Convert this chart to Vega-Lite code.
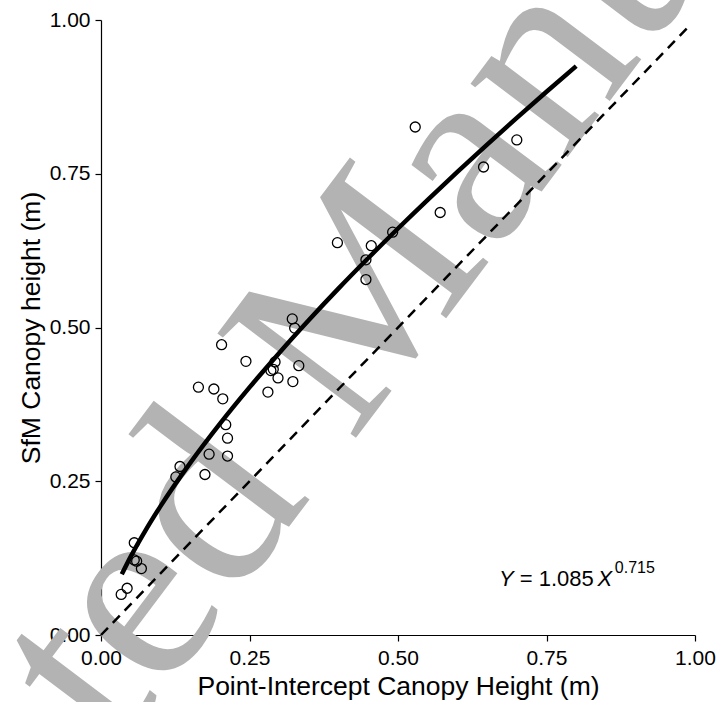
{
  "$schema": "https://vega.github.io/schema/vega-lite/v6.json",
  "width": 594,
  "height": 615,
  "autosize": {"type": "none"},
  "padding": {"left": 101, "top": 20, "right": 23, "bottom": 67},
  "background": "white",
  "config": {
    "view": {"stroke": null},
    "font": "Liberation Sans",
    "axis": {
      "grid": false,
      "labelFlush": false,
      "domainColor": "black",
      "domainWidth": 1.2,
      "tickColor": "black",
      "tickWidth": 1.2,
      "tickSize": 6,
      "labelColor": "black",
      "titleColor": "black",
      "labelFont": "Liberation Sans",
      "titleFont": "Liberation Sans",
      "labelFontSize": 21,
      "titleFontSize": 26.5,
      "titleFontWeight": "normal"
    }
  },
  "datasets": {
    "obs": [
      {"x": 0.529, "y": 0.826},
      {"x": 0.700, "y": 0.805},
      {"x": 0.644, "y": 0.761},
      {"x": 0.571, "y": 0.687},
      {"x": 0.491, "y": 0.655},
      {"x": 0.398, "y": 0.638},
      {"x": 0.455, "y": 0.633},
      {"x": 0.446, "y": 0.610},
      {"x": 0.446, "y": 0.578},
      {"x": 0.322, "y": 0.514},
      {"x": 0.326, "y": 0.499},
      {"x": 0.203, "y": 0.472},
      {"x": 0.244, "y": 0.445},
      {"x": 0.293, "y": 0.444},
      {"x": 0.290, "y": 0.432},
      {"x": 0.286, "y": 0.430},
      {"x": 0.298, "y": 0.418},
      {"x": 0.333, "y": 0.438},
      {"x": 0.323, "y": 0.412},
      {"x": 0.281, "y": 0.395},
      {"x": 0.164, "y": 0.403},
      {"x": 0.190, "y": 0.400},
      {"x": 0.205, "y": 0.384},
      {"x": 0.210, "y": 0.342},
      {"x": 0.213, "y": 0.320},
      {"x": 0.182, "y": 0.294},
      {"x": 0.213, "y": 0.291},
      {"x": 0.133, "y": 0.274},
      {"x": 0.126, "y": 0.257},
      {"x": 0.175, "y": 0.261},
      {"x": 0.056, "y": 0.150},
      {"x": 0.056, "y": 0.122},
      {"x": 0.060, "y": 0.120},
      {"x": 0.068, "y": 0.108},
      {"x": 0.044, "y": 0.076},
      {"x": 0.034, "y": 0.066}
    ],
    "fit": [
      {"x": 0.035, "y": 0.0987},
      {"x": 0.05, "y": 0.1274},
      {"x": 0.075, "y": 0.1702},
      {"x": 0.1, "y": 0.2092},
      {"x": 0.15, "y": 0.2795},
      {"x": 0.2, "y": 0.3433},
      {"x": 0.25, "y": 0.4026},
      {"x": 0.3, "y": 0.4587},
      {"x": 0.35, "y": 0.5122},
      {"x": 0.4, "y": 0.5636},
      {"x": 0.45, "y": 0.6130},
      {"x": 0.5, "y": 0.6610},
      {"x": 0.55, "y": 0.7076},
      {"x": 0.6, "y": 0.7530},
      {"x": 0.65, "y": 0.7973},
      {"x": 0.7, "y": 0.8408},
      {"x": 0.75, "y": 0.8833},
      {"x": 0.8, "y": 0.9250}
    ],
    "oneone": [
      {"x": 0, "y": 0},
      {"x": 0.99, "y": 0.99}
    ]
  },
  "layer": [
    {
      "data": {"values": [{"t": "Accepted Manuscript"}]},
      "mark": {"type": "text", "angle": -53, "fontSize": 265, "font": "Liberation Serif", "color": "#b3b3b3", "align": "center", "baseline": "middle"},
      "encoding": {
        "x": {"datum": 0.385, "type": "quantitative", "scale": {"domain": [0, 1], "nice": false, "zero": false}},
        "y": {"datum": 0.48, "type": "quantitative", "scale": {"domain": [0, 1], "nice": false, "zero": false}},
        "text": {"field": "t"}
      }
    },
    {
      "data": {"name": "oneone"},
      "mark": {"type": "line", "color": "black", "strokeWidth": 2.5, "strokeDash": [10, 7]},
      "encoding": {
        "x": {"field": "x", "type": "quantitative",
          "axis": {"values": [0, 0.25, 0.5, 0.75, 1], "format": ".2f", "labelPadding": 6, "titlePadding": 5, "title": "Point-Intercept Canopy Height (m)"}},
        "y": {"field": "y", "type": "quantitative",
          "axis": {"values": [0, 0.25, 0.5, 0.75, 1], "format": ".2f", "labelPadding": 5, "titlePadding": 4, "title": "SfM Canopy height (m)"}}
      }
    },
    {
      "data": {"name": "fit"},
      "mark": {"type": "line", "color": "black", "strokeWidth": 4.5, "interpolate": "monotone"},
      "encoding": {
        "x": {"field": "x", "type": "quantitative", "title": "Point-Intercept Canopy Height (m)"},
        "y": {"field": "y", "type": "quantitative", "title": "SfM Canopy height (m)"}
      }
    },
    {
      "data": {"name": "obs"},
      "mark": {"type": "point", "shape": "circle", "size": 100, "filled": false, "color": "black", "strokeWidth": 1.3, "opacity": 1},
      "encoding": {
        "x": {"field": "x", "type": "quantitative", "title": "Point-Intercept Canopy Height (m)"},
        "y": {"field": "y", "type": "quantitative", "title": "SfM Canopy height (m)"}
      }
    },
    {
      "data": {"values": [{"t": "Y"}]},
      "mark": {"type": "text", "fontSize": 22, "fontStyle": "italic", "align": "left", "baseline": "alphabetic", "color": "black"},
      "encoding": {"x": {"datum": 0.670, "type": "quantitative"}, "y": {"datum": 0.0797, "type": "quantitative"}, "text": {"field": "t"}}
    },
    {
      "data": {"values": [{"t": "= 1.085"}]},
      "mark": {"type": "text", "fontSize": 22, "align": "left", "baseline": "alphabetic", "color": "black"},
      "encoding": {"x": {"datum": 0.705, "type": "quantitative"}, "y": {"datum": 0.0797, "type": "quantitative"}, "text": {"field": "t"}}
    },
    {
      "data": {"values": [{"t": "X"}]},
      "mark": {"type": "text", "fontSize": 22, "fontStyle": "italic", "align": "left", "baseline": "alphabetic", "color": "black"},
      "encoding": {"x": {"datum": 0.836, "type": "quantitative"}, "y": {"datum": 0.0797, "type": "quantitative"}, "text": {"field": "t"}}
    },
    {
      "data": {"values": [{"t": "0.715"}]},
      "mark": {"type": "text", "fontSize": 16, "align": "left", "baseline": "alphabetic", "color": "black"},
      "encoding": {"x": {"datum": 0.865, "type": "quantitative"}, "y": {"datum": 0.1008, "type": "quantitative"}, "text": {"field": "t"}}
    }
  ]
}
